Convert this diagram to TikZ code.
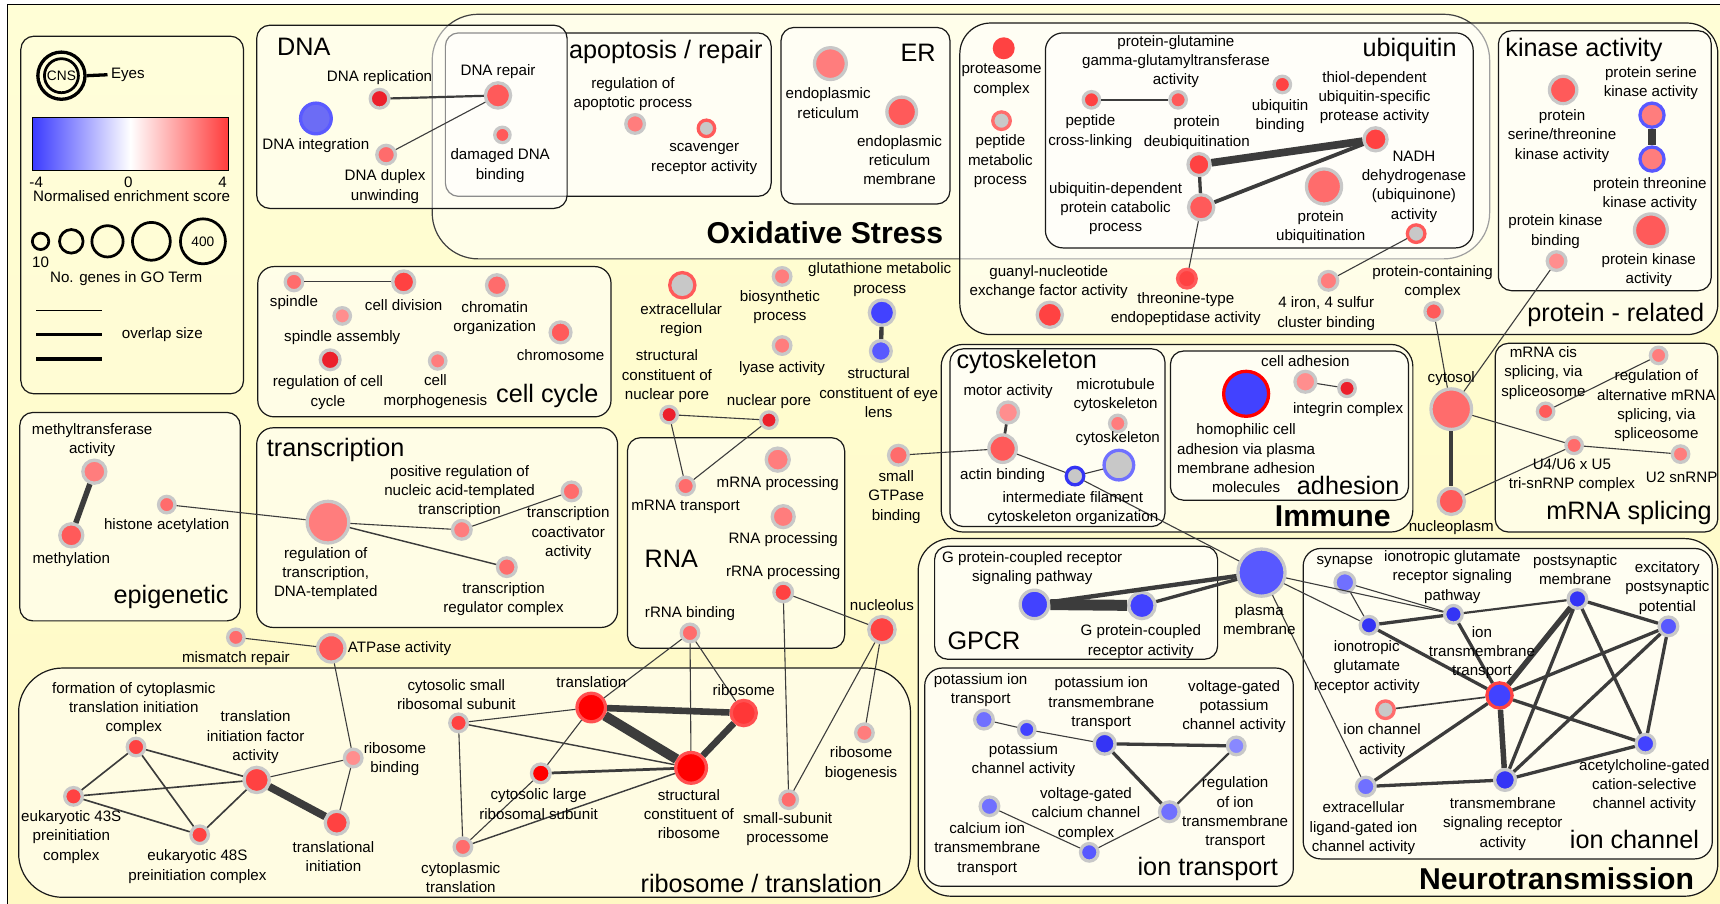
\documentclass[tikz,border=0pt]{standalone}
\usepackage{fontspec}
\setmainfont{Liberation Sans}
\definecolor{bgtop}{RGB}{255,254,214}
\definecolor{bgbot}{RGB}{255,249,196}
\definecolor{ringg}{RGB}{200,200,200}
\definecolor{edgec}{RGB}{60,60,60}
\definecolor{R0}{RGB}{255,0,0}
\definecolor{R1}{RGB}{236,32,44}
\definecolor{R2}{RGB}{255,66,66}
\definecolor{R3}{RGB}{255,90,90}
\definecolor{R4}{RGB}{255,108,108}
\definecolor{R5}{RGB}{255,125,125}
\definecolor{R6}{RGB}{255,142,142}
\definecolor{rring}{RGB}{255,80,80}
\definecolor{ribfill}{RGB}{255,55,55}
\definecolor{B1}{RGB}{52,52,245}
\definecolor{B2}{RGB}{66,66,255}
\definecolor{B3}{RGB}{88,88,255}
\definecolor{B4}{RGB}{112,112,255}
\definecolor{B5}{RGB}{136,136,255}
\definecolor{dnablue}{RGB}{108,108,245}
\definecolor{dnaring}{RGB}{90,90,255}
\definecolor{cbblue}{RGB}{60,60,255}
\definecolor{cbred}{RGB}{255,60,60}
% GO term node: name, x, y, outer radius, fill, ring
\newcommand{\gon}[6]{\node[goterm, minimum size={(2*#4-3)*1pt}, fill=#5, draw=#6] (#1) at (#2,#3) {};}
\begin{document}
\begin{tikzpicture}[x=1pt,y=-1pt,
  lab/.style={font=\fontsize{13.8}{17.6}\selectfont, align=center, inner sep=0pt},
  ttl/.style={font=\fontsize{23}{26}\selectfont, inner sep=0pt},
  bttl/.style={font=\fontsize{27.5}{30}\selectfont\bfseries, inner sep=0pt},
  grp/.style={draw=black!90, line width=1.1pt, fill=white, fill opacity=0.5, rounded corners=12pt},
  goterm/.style={circle, inner sep=0pt, line width=3pt},
  lk/.style={draw=edgec, line width=#1},
  lk/.default=1pt]
\useasboundingbox (0,0) rectangle (1568,824);
\fill[white] (0,0) rectangle (1568,824);
\shade[top color=bgtop, bottom color=bgbot] (7,4) rectangle (1568,824);
\draw[line width=1.2pt] (7,824) -- (7,4) -- (1568,4);

% ---------- group frames ----------
\draw[grp, fill opacity=0.12] (19,33) rectangle (222,359);
\draw[grp, rounded corners=42pt, draw=black!75] (394,13) rectangle (1358,236);
\draw[grp, rounded corners=28pt] (875,21) rectangle (1566,305);
\draw[grp] (406,30) rectangle (703,179);
\draw[grp] (234,23) rectangle (517,190);
\draw[grp] (712,25) rectangle (866,186);
\draw[grp, rounded corners=16pt] (953,30) rectangle (1343,226);
\draw[grp] (1366,28) rectangle (1560,265);
\draw[grp, rounded corners=15pt] (235,243) rectangle (557,380);
\draw[grp] (18,376) rectangle (219,566);
\draw[grp, rounded corners=15pt] (234,390) rectangle (563,572);
\draw[grp] (572,399) rectangle (770,591);
\draw[grp, rounded corners=40pt] (17,609) rectangle (830,818);
\draw[grp, rounded corners=20pt] (858,314) rectangle (1288,485);
\draw[grp] (866,318) rectangle (1062,480);
\draw[grp] (1067,320) rectangle (1284,456);
\draw[grp] (1363,313) rectangle (1566,485);
\draw[grp, rounded corners=30pt] (837,491) rectangle (1566,817);
\draw[grp] (852,498) rectangle (1110,601);
\draw[grp, rounded corners=16pt] (843,609) rectangle (1179,808);
\draw[grp, rounded corners=16pt] (1188,500) rectangle (1561,783);

% ---------- legend ----------
\node[circle, draw, line width=3pt, minimum size=43pt, inner sep=0pt] (cnsout) at (56,69) {};
\node[circle, draw, line width=2.5pt, minimum size=31pt, inner sep=0pt,
      font=\fontsize{12.5}{14}\selectfont] (cnsin) at (56,69) {CNS};
\node[lab, anchor=west] (eyes) at (101,68) {Eyes};
\draw[line width=3pt, shorten >=3pt] (cnsout.east) -- (eyes.west);
\shade[left color=cbblue, right color=white] (30,107) rectangle (119,155);
\shade[left color=white, right color=cbred] (119,107) rectangle (208,155);
\draw[line width=0.8pt] (30,107) rectangle (208,155);
\node[lab] (cbmin) at (33,166) {-4};
\node[lab] (cbmid) at (117,166) {0};
\node[lab] (cbmax) at (203,166) {4};
\node[lab] (cbtitle) at (120,179) {Normalised enrichment score};
\node[circle, draw, line width=2.5pt, minimum size=15pt, inner sep=0pt] (sz1) at (37,220) {};
\node[circle, draw, line width=2.5pt, minimum size=21.5pt, inner sep=0pt] (sz2) at (65,220) {};
\node[circle, draw, line width=2.5pt, minimum size=28.5pt, inner sep=0pt] (sz3) at (98,220) {};
\node[circle, draw, line width=2.5pt, minimum size=34.5pt, inner sep=0pt] (sz4) at (138,220) {};
\node[circle, draw, line width=2.5pt, minimum size=41pt, inner sep=0pt,
      font=\fontsize{12.5}{14}\selectfont] (sz5) at (185,220) {400};
\node[lab] (szmin) at (37,239) {10};
\node[lab] (sztitle) at (115,254) {No. genes in GO Term};
\draw[line width=1pt] (33,283) -- (93,283);
\draw[line width=2.2pt] (33,305) -- (93,305);
\draw[line width=3.8pt] (33,327) -- (93,327);
\node[lab, anchor=west] (ovl) at (111,305) {overlap size};

% ---------- GO term nodes ----------
% DNA
\gon{dnarep}{346}{90}{10}{R1}{ringg}
\gon{dnaint}{288}{108}{15.5}{dnablue}{dnaring}
\gon{dnadup}{352}{141}{10}{R4}{ringg}
\gon{dnarepair}{454}{87}{13}{R3}{ringg}
\gon{dmgdna}{458}{123}{8.5}{R3}{ringg}
% apoptosis / repair, ER
\gon{regapo}{579}{113}{10}{R5}{ringg}
\gon{scav}{644}{117}{9}{ringg}{R3}
\gon{er}{757}{58}{16}{R5}{ringg}
\gon{erm}{822}{102}{15}{R3}{ringg}
% protein - related
\gon{proteas}{915}{44}{10}{R2}{R2}
\gon{pepmet}{913}{110}{9.5}{ringg}{R4}
\gon{pcl}{995}{91}{9}{R2}{ringg}
\gon{pggt}{1074}{91}{9}{R3}{ringg}
\gon{ubbind}{1169}{77}{9}{R2}{ringg}
\gon{thiol}{1254}{127}{12}{R2}{ringg}
\gon{deubiq}{1093}{150}{11.5}{R2}{ringg}
\gon{ubdep}{1095}{189}{13}{R3}{ringg}
\gon{protubiq}{1207}{170}{17.5}{R4}{ringg}
\gon{nadh}{1291}{213}{9.5}{ringg}{R3}
\gon{thrtype}{1082}{254}{10}{R2}{R3}
\gon{iron}{1211}{256}{10}{R5}{ringg}
\gon{protcont}{1307}{284}{9.5}{R3}{ringg}
\gon{guanyl}{957}{287}{13}{R2}{ringg}
\gon{pstk}{1425}{82}{14}{R3}{ringg}
\gon{psk}{1506}{105}{12.5}{R5}{B3}
\gon{ptk}{1506}{145}{12.5}{R5}{B3}
\gon{pkb}{1419}{238}{10}{R6}{ringg}
\gon{pka}{1505}{210}{16.5}{R3}{ringg}
% cell cycle
\gon{spindle}{268}{257}{9.5}{R4}{ringg}
\gon{celldiv}{368}{257}{11.5}{R2}{ringg}
\gon{chromatin}{453}{260}{11}{R4}{ringg}
\gon{spasm}{312}{288}{9}{R6}{ringg}
\gon{chromo}{511}{303}{11}{R3}{ringg}
\gon{regcc}{301}{328}{10.5}{R1}{ringg}
\gon{morph}{399}{329}{9}{R5}{ringg}
% epigenetic, transcription
\gon{methtr}{86}{430}{12}{R5}{ringg}
\gon{methyl}{65}{488}{12}{R3}{ringg}
\gon{histac}{152}{460}{9}{R4}{ringg}
\gon{regtr}{299}{476}{20.5}{R5}{ringg}
\gon{posreg}{421}{483}{10}{R5}{ringg}
\gon{coact}{521}{448}{10}{R4}{ringg}
\gon{regcplx}{462}{517}{10}{R4}{ringg}
\gon{mismatch}{215}{581}{9}{R4}{ringg}
\gon{atpase}{302}{591}{14}{R3}{ringg}
% free terms and RNA
\gon{extreg}{622}{260}{13}{ringg}{R3}
\gon{biosyn}{713}{252}{9.5}{R5}{ringg}
\gon{lyase}{713}{315}{9.5}{R5}{ringg}
\gon{gluta}{804}{285}{13}{B2}{ringg}
\gon{eyelens}{803}{320}{11}{B3}{ringg}
\gon{cnp}{610}{378}{9}{R1}{ringg}
\gon{npore}{701}{383}{9}{R1}{ringg}
\gon{mrnatr}{625}{443}{9.5}{R4}{ringg}
\gon{mrnaproc}{709}{419}{12}{R5}{ringg}
\gon{rnaproc}{714}{471}{11.5}{R5}{ringg}
\gon{rrnaproc}{714}{540}{10}{R2}{ringg}
\gon{rrnabind}{629}{577}{9.5}{R4}{ringg}
\gon{nucleolus}{804}{574}{13.5}{R2}{ringg}
\gon{smgtp}{819}{415}{10.5}{R4}{ringg}
% cytoskeleton, adhesion
\gon{motor}{919}{376}{11}{R6}{ringg}
\gon{actin}{914}{409}{14}{R3}{ringg}
\gon{microt}{1019}{386}{9}{R5}{ringg}
\gon{cytosk}{1020}{424}{15}{ringg}{B4}
\gon{intfil}{980}{434}{9.5}{ringg}{B1}
\gon{homoph}{1136}{359}{22}{B2}{R0}
\gon{celladh}{1190}{348}{11}{R6}{ringg}
\gon{integrin}{1228}{354}{9}{R1}{ringg}
\gon{cytosol}{1323}{373}{20}{R4}{ringg}
\gon{nucleopl}{1323}{457}{13.5}{R3}{ringg}
% mRNA splicing
\gon{mrnacis}{1409}{375}{9}{R3}{ringg}
\gon{regalt}{1512}{324}{9}{R5}{ringg}
\gon{uu}{1435}{406}{9}{R4}{ringg}
\gon{utwo}{1532}{414}{9}{R5}{ringg}
% neurotransmission
\gon{plasma}{1150}{522}{23}{B3}{ringg}
\gon{gpcrsig}{943}{551}{14.5}{B2}{ringg}
\gon{gpcract}{1041}{552}{13.5}{B2}{ringg}
\gon{kion}{897}{656}{10}{B4}{ringg}
\gon{kchan}{936}{665}{9}{B2}{ringg}
\gon{kiontm}{1007}{678}{11}{B1}{ringg}
\gon{vgk}{1127}{680}{9.5}{B5}{ringg}
\gon{regiontm}{1066}{740}{10.5}{B4}{ringg}
\gon{vgca}{993}{777}{9.5}{B3}{ringg}
\gon{caion}{902}{735}{10}{B4}{ringg}
\gon{synapse}{1226}{531}{10.5}{B4}{ringg}
\gon{igsig}{1325}{560}{9.5}{B1}{ringg}
\gon{igrec}{1248}{570}{9.5}{B1}{ringg}
\gon{postsyn}{1438}{546}{10}{B1}{ringg}
\gon{excit}{1521}{571}{10}{B3}{ringg}
\gon{iontm}{1367}{634}{13}{B2}{R2}
\gon{ionchact}{1263}{647}{9.5}{ringg}{R4}
\gon{ach}{1500}{678}{10}{B2}{ringg}
\gon{tmsig}{1372}{711}{11}{B1}{ringg}
\gon{extlig}{1245}{717}{10}{B4}{ringg}
% ribosome / translation
\gon{formation}{124}{681}{9.5}{R2}{ringg}
\gon{tif}{234}{711}{13}{R2}{ringg}
\gon{sfortythree}{67}{726}{9.5}{R2}{ringg}
\gon{sfortyeight}{182}{761}{9.5}{R2}{ringg}
\gon{trinit}{307}{750}{12}{R2}{ringg}
\gon{ribbind}{322}{691}{9.5}{R6}{ringg}
\gon{cytsmall}{418}{659}{9.5}{R2}{ringg}
\gon{transl}{539}{645}{14.5}{R0}{rring}
\gon{ribosome}{678}{650}{13}{ribfill}{rring}
\gon{cytlarge}{493}{705}{10}{R0}{ringg}
\gon{struct}{630}{700}{15.5}{R0}{rring}
\gon{cyttransl}{422}{772}{9.5}{R4}{ringg}
\gon{ssp}{719}{729}{9.5}{R4}{ringg}
\gon{ribbiog}{788}{668}{9.5}{R5}{ringg}

% ---------- overlaps ----------
\draw[lk=2pt] (dnarep) -- (dnarepair);
\draw[lk] (dnadup) -- (dnarepair);
\draw[lk=2pt] (pcl) -- (pggt);
\draw[lk=7pt] (deubiq) -- (thiol);
\draw[lk=3pt] (deubiq) -- (ubdep);
\draw[lk=3.5pt] (ubdep) -- (thiol);
\draw[lk] (ubdep) -- (thrtype);
\draw[lk] (nadh) -- (iron);
\draw[lk=8pt] (psk) -- (ptk);
\draw[lk] (spindle) -- (celldiv);
\draw[lk=5pt] (methtr) -- (methyl);
\draw[lk] (histac) -- (regtr);
\draw[lk] (regtr) -- (posreg);
\draw[lk] (posreg) -- (coact);
\draw[lk=1.3pt] (regtr) -- (regcplx);
\draw[lk] (mismatch) -- (atpase);
\draw[lk] (atpase) -- (ribbind);
\draw[lk=4pt] (gluta) -- (eyelens);
\draw[lk] (cnp) -- (npore);
\draw[lk] (cnp) -- (mrnatr);
\draw[lk] (npore) -- (mrnatr);
\draw[lk] (rrnaproc) -- (nucleolus);
\draw[lk] (rrnaproc) -- (ssp);
\draw[lk] (nucleolus) -- (ssp);
\draw[lk] (nucleolus) -- (ribbiog);
\draw[lk] (rrnabind) -- (transl);
\draw[lk] (rrnabind) -- (struct);
\draw[lk] (rrnabind) -- (ribosome);
\draw[lk=6pt] (transl) -- (ribosome);
\draw[lk=9pt] (transl) -- (struct);
\draw[lk=6pt] (ribosome) -- (struct);
\draw[lk] (transl) -- (cytsmall);
\draw[lk] (transl) -- (cytlarge);
\draw[lk=1.3pt] (cytsmall) -- (struct);
\draw[lk] (cytsmall) -- (cyttransl);
\draw[lk=2.5pt] (cytlarge) -- (struct);
\draw[lk] (cytlarge) -- (cyttransl);
\draw[lk=1.3pt] (cyttransl) -- (struct);
\draw[lk=1.5pt] (formation) -- (sfortythree);
\draw[lk=1.5pt] (formation) -- (sfortyeight);
\draw[lk=1.5pt] (formation) -- (tif);
\draw[lk=1.5pt] (sfortythree) -- (tif);
\draw[lk=1.5pt] (sfortythree) -- (sfortyeight);
\draw[lk=1.5pt] (sfortyeight) -- (tif);
\draw[lk=7pt] (tif) -- (trinit);
\draw[lk] (tif) -- (ribbind);
\draw[lk] (ribbind) -- (trinit);
\draw[lk] (smgtp) -- (actin);
\draw[lk=2.5pt] (motor) -- (actin);
\draw[lk] (actin) -- (intfil);
\draw[lk] (intfil) -- (cytosk);
\draw[lk] (intfil) -- (plasma);
\draw[lk] (celladh) -- (integrin);
\draw[lk=4pt] (cytosol) -- (nucleopl);
\draw[lk] (cytosol) -- (protcont);
\draw[lk] (cytosol) -- (pkb);
\draw[lk] (cytosol) -- (uu);
\draw[lk] (nucleopl) -- (uu);
\draw[lk] (mrnacis) -- (regalt);
\draw[lk] (uu) -- (utwo);
\draw[lk=10pt] (gpcrsig) -- (gpcract);
\draw[lk=4pt] (gpcrsig) -- (plasma);
\draw[lk=3pt] (gpcract) -- (plasma);
\draw[lk] (plasma) -- (igsig);
\draw[lk] (plasma) -- (igrec);
\draw[lk] (plasma) -- (extlig);
\draw[lk] (synapse) -- (igsig);
\draw[lk] (synapse) -- (igrec);
\draw[lk=3pt] (igrec) -- (igsig);
\draw[lk=2pt] (igsig) -- (postsyn);
\draw[lk=3pt] (igsig) -- (iontm);
\draw[lk=3pt] (igrec) -- (iontm);
\draw[lk=3pt] (postsyn) -- (excit);
\draw[lk=5pt] (postsyn) -- (iontm);
\draw[lk=3pt] (postsyn) -- (tmsig);
\draw[lk=3pt] (postsyn) -- (ach);
\draw[lk=3pt] (excit) -- (iontm);
\draw[lk=3pt] (excit) -- (tmsig);
\draw[lk=3pt] (excit) -- (ach);
\draw[lk=1.5pt] (iontm) -- (ionchact);
\draw[lk=3pt] (iontm) -- (ach);
\draw[lk=5pt] (iontm) -- (tmsig);
\draw[lk=3pt] (iontm) -- (extlig);
\draw[lk=3pt] (extlig) -- (tmsig);
\draw[lk=3pt] (tmsig) -- (ach);
\draw[lk] (kion) -- (kchan);
\draw[lk] (kchan) -- (kiontm);
\draw[lk=3pt] (kiontm) -- (vgk);
\draw[lk=3pt] (kiontm) -- (regiontm);
\draw[lk=2pt] (regiontm) -- (vgk);
\draw[lk] (regiontm) -- (vgca);
\draw[lk] (caion) -- (vgca);

% ---------- term labels ----------
\node[lab] (t-dnarep) at (346,71) {DNA replication};
\node[lab] (t-dnaint) at (288,133) {DNA integration};
\node[lab] (t-dnadup) at (351,170) {DNA duplex\\unwinding};
\node[lab] (t-dnarepair) at (454,65) {DNA repair};
\node[lab] (t-dmgdna) at (456,151) {damaged DNA\\binding};
\node[lab] (t-regapo) at (577,86) {regulation of\\apoptotic process};
\node[lab] (t-scav) at (642,145) {scavenger\\receptor activity};
\node[lab] (t-er) at (755,94) {endoplasmic\\reticulum};
\node[lab] (t-erm) at (820,146) {endoplasmic\\reticulum\\membrane};
\node[lab] (t-proteas) at (913,73) {proteasome\\complex};
\node[lab] (t-pepmet) at (912,147) {peptide\\metabolic\\process};
\node[lab] (t-pggt) at (1072,56) {protein-glutamine\\gamma-glutamyltransferase\\activity};
\node[lab] (t-pcl) at (994,120) {peptide\\cross-linking};
\node[lab] (t-deubiq) at (1091,121) {protein\\deubiquitination};
\node[lab] (t-ubbind) at (1167,106) {ubiquitin\\binding};
\node[lab] (t-thiol) at (1253,89) {thiol-dependent\\ubiquitin-specific\\protease activity};
\node[lab] (t-ubdep) at (1017,190) {ubiquitin-dependent\\protein catabolic\\process};
\node[lab] (t-protubiq) at (1204,207) {protein\\ubiquitination};
\node[lab] (t-nadh) at (1289,170) {NADH\\dehydrogenase\\(ubiquinone)\\activity};
\node[lab] (t-guanyl) at (956,257) {guanyl-nucleotide\\exchange factor activity};
\node[lab] (t-thrtype) at (1081,282) {threonine-type\\endopeptidase activity};
\node[lab] (t-iron) at (1209,286) {4 iron, 4 sulfur\\cluster binding};
\node[lab] (t-protcont) at (1306,257) {protein-containing\\complex};
\node[lab] (t-pstk) at (1424,124) {protein\\serine/threonine\\kinase activity};
\node[lab] (t-psk) at (1505,76) {protein serine\\kinase activity};
\node[lab] (t-ptk) at (1504,177) {protein threonine\\kinase activity};
\node[lab] (t-pkb) at (1418,211) {protein kinase\\binding};
\node[lab] (t-pka) at (1503,246) {protein kinase\\activity};
\node[lab] (t-spindle) at (268,276) {spindle};
\node[lab] (t-celldiv) at (368,278) {cell division};
\node[lab] (t-chromatin) at (451,290) {chromatin\\organization};
\node[lab] (t-spasm) at (312,307.5) {spindle assembly};
\node[lab] (t-chromo) at (511,324) {chromosome};
\node[lab] (t-regcc) at (299,358) {regulation of cell\\cycle};
\node[lab] (t-morph) at (397,357) {cell\\morphogenesis};
\node[lab] (t-methtr) at (84,401) {methyltransferase\\activity};
\node[lab] (t-methyl) at (65,510) {methylation};
\node[lab] (t-histac) at (152,479) {histone acetylation};
\node[lab] (t-regtr) at (297,523) {regulation of\\transcription,\\DNA-templated};
\node[lab] (t-posreg) at (419,448) {positive regulation of\\nucleic acid-templated\\transcription};
\node[lab] (t-coact) at (518,486) {transcription\\coactivator\\activity};
\node[lab] (t-regcplx) at (459,546) {transcription\\regulator complex};
\node[lab] (t-mismatch) at (215,600) {mismatch repair};
\node[lab, anchor=west] (t-atpase) at (317,591) {ATPase activity};
\node[lab] (t-extreg) at (621,292) {extracellular\\region};
\node[lab] (t-biosyn) at (711,280) {biosynthetic\\process};
\node[lab] (t-lyase) at (713,336) {lyase activity};
\node[lab] (t-gluta) at (802,255) {glutathione metabolic\\process};
\node[lab] (t-eyelens) at (801,358) {structural\\constituent of eye\\lens};
\node[lab] (t-cnp) at (608,343) {structural\\constituent of\\nuclear pore};
\node[lab] (t-npore) at (701,366) {nuclear pore};
\node[lab] (t-mrnatr) at (625,462) {mRNA transport};
\node[lab] (t-mrnaproc) at (709,441) {mRNA processing};
\node[lab] (t-rnaproc) at (714,492) {RNA processing};
\node[lab] (t-rrnaproc) at (714,522) {rRNA processing};
\node[lab] (t-rrnabind) at (629,559) {rRNA binding};
\node[lab] (t-nucleolus) at (804,552) {nucleolus};
\node[lab] (t-smgtp) at (817,453) {small\\GTPase\\binding};
\node[lab] (t-motor) at (919,357) {motor activity};
\node[lab] (t-actin) at (914,434) {actin binding};
\node[lab] (t-microt) at (1017,360) {microtubule\\cytoskeleton};
\node[lab] (t-cytosk) at (1019,400) {cytoskeleton};
\node[lab] (t-intfil) at (978,463) {intermediate filament\\cytoskeleton organization};
\node[lab] (t-homoph) at (1136,418) {homophilic cell\\adhesion via plasma\\membrane adhesion\\molecules};
\node[lab] (t-celladh) at (1190,329) {cell adhesion};
\node[lab] (t-integrin) at (1229,373) {integrin complex};
\node[lab] (t-cytosol) at (1323,345) {cytosol};
\node[lab] (t-nucleopl) at (1323,481) {nucleoplasm};
\node[lab] (t-mrnacis) at (1407,340) {mRNA cis\\splicing, via\\spliceosome};
\node[lab] (t-regalt) at (1510,370) {regulation of\\alternative mRNA\\splicing, via\\spliceosome};
\node[lab] (t-uu) at (1433,433) {U4/U6 x U5\\tri-snRNP complex};
\node[lab] (t-utwo) at (1533,435) {U2 snRNP};
\node[lab] (t-plasma) at (1148,565) {plasma\\membrane};
\node[lab] (t-gpcrsig) at (941,518) {G protein-coupled receptor\\signaling pathway};
\node[lab] (t-gpcract) at (1040,585) {G protein-coupled\\receptor activity};
\node[lab] (t-kion) at (894,629) {potassium ion\\transport};
\node[lab] (t-kchan) at (933,693) {potassium\\channel activity};
\node[lab] (t-kiontm) at (1004,641) {potassium ion\\transmembrane\\transport};
\node[lab] (t-vgk) at (1125,644) {voltage-gated\\potassium\\channel activity};
\node[lab] (t-regiontm) at (1126,741) {regulation\\of ion\\transmembrane\\transport};
\node[lab] (t-vgca) at (990,742) {voltage-gated\\calcium channel\\complex};
\node[lab] (t-caion) at (900,774) {calcium ion\\transmembrane\\transport};
\node[lab] (t-synapse) at (1226,512) {synapse};
\node[lab] (t-igsig) at (1324,526) {ionotropic glutamate\\receptor signaling\\pathway};
\node[lab] (t-igrec) at (1246,608) {ionotropic\\glutamate\\receptor activity};
\node[lab] (t-postsyn) at (1436,519) {postsynaptic\\membrane};
\node[lab] (t-excit) at (1520,536) {excitatory\\postsynaptic\\potential};
\node[lab] (t-iontm) at (1351,595) {ion\\transmembrane\\transport};
\node[lab] (t-ionchact) at (1260,675) {ion channel\\activity};
\node[lab] (t-ach) at (1499,716) {acetylcholine-gated\\cation-selective\\channel activity};
\node[lab] (t-tmsig) at (1370,751) {transmembrane\\signaling receptor\\activity};
\node[lab] (t-extlig) at (1243,755) {extracellular\\ligand-gated ion\\channel activity};
\node[lab] (t-formation) at (122,646) {formation of cytoplasmic\\translation initiation\\complex};
\node[lab] (t-tif) at (233,672) {translation\\initiation factor\\activity};
\node[lab] (t-s43) at (65,763) {eukaryotic 43S\\preinitiation\\complex};
\node[lab] (t-s48) at (180,790) {eukaryotic 48S\\preinitiation complex};
\node[lab] (t-trinit) at (304,781) {translational\\initiation};
\node[lab] (t-ribbind) at (360,692) {ribosome\\binding};
\node[lab] (t-cytsmall) at (416,633) {cytosolic small\\ribosomal subunit};
\node[lab] (t-transl) at (539,622) {translation};
\node[lab] (t-ribosome) at (678,629) {ribosome};
\node[lab] (t-cytlarge) at (491,733) {cytosolic large\\ribosomal subunit};
\node[lab] (t-struct) at (628,742) {structural\\constituent of\\ribosome};
\node[lab] (t-cyttransl) at (420,800) {cytoplasmic\\translation};
\node[lab] (t-ssp) at (718,756) {small-subunit\\processome};
\node[lab] (t-ribbiog) at (785,696) {ribosome\\biogenesis};

% ---------- group titles ----------
\node[ttl] (h-dna) at (277,43) {DNA};
\node[ttl] (h-apo) at (607,47) {apoptosis / repair};
\node[ttl] (h-er) at (837,48) {ER};
\node[bttl] (h-ox) at (752,212) {Oxidative Stress};
\node[ttl] (h-ubq) at (1285,46) {ubiquitin};
\node[ttl] (h-kin) at (1444,46) {kinase activity};
\node[ttl] (h-prot) at (1473,287) {protein - related};
\node[ttl] (h-cc) at (499,361) {cell cycle};
\node[ttl] (h-tr) at (306,410) {transcription};
\node[ttl] (h-epi) at (156,544) {epigenetic};
\node[ttl] (h-rna) at (612,509) {RNA};
\node[ttl] (h-rib) at (694,805) {ribosome / translation};
\node[ttl] (h-cyto) at (936,330) {cytoskeleton};
\node[ttl] (h-adh) at (1229,443) {adhesion};
\node[bttl] (h-imm) at (1215,471) {Immune};
\node[ttl] (h-mrna) at (1485,468) {mRNA splicing};
\node[ttl] (h-gpcr) at (897,584) {GPCR};
\node[ttl] (h-iont) at (1101,792) {ion transport};
\node[ttl] (h-ionch) at (1490,765) {ion channel};
\node[bttl] (h-neuro) at (1419,801) {Neurotransmission};
\end{tikzpicture}
\end{document}
